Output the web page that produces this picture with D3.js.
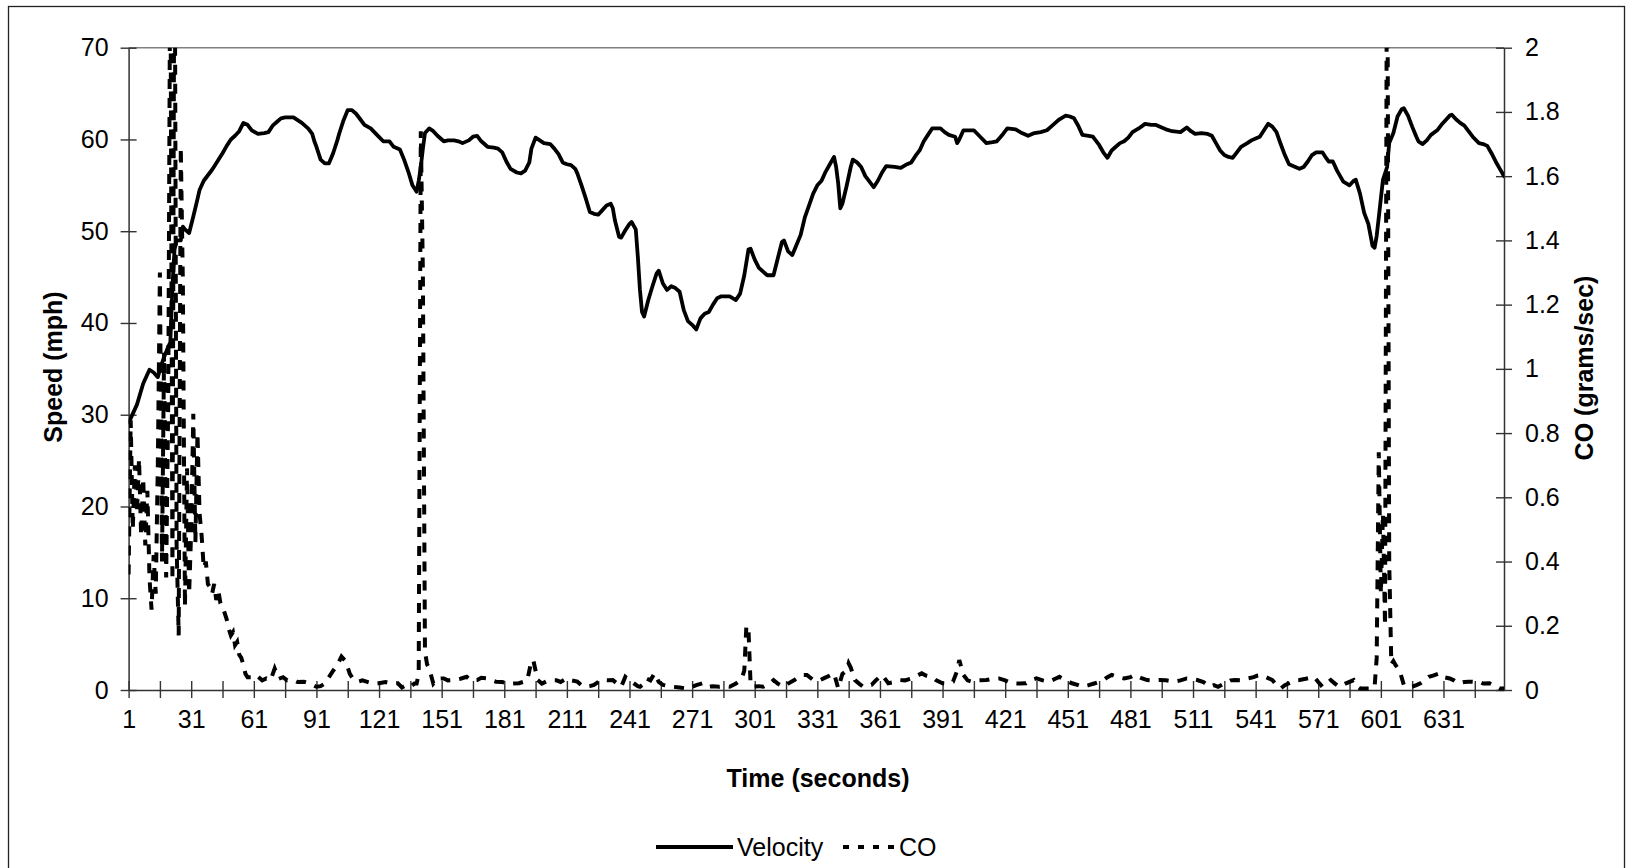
<!DOCTYPE html>
<html><head><meta charset="utf-8">
<script src="https://cdn.jsdelivr.net/npm/d3@7"></script>
<style>
html,body{margin:0;padding:0;background:#fff;}
svg{display:block;font-family:"Liberation Sans",Arial,Helvetica,sans-serif;}
</style></head><body>
<svg id="chart" width="1627" height="868"></svg>
<script>
// ---------- DATA ----------
const velT = [1,2,5,8,11,13,15,16,18,20,21,22,23,24,26,27,28,30,32,34,35,37,39,41,43,46,48,50,52,54,56,58,60,63,66,68,70,72,74,76,80,82,84,87,89,90,91,93,95,97,99,101,102,104,106,108,110,112,114,117,120,123,126,128,131,133,135,137,139,140,141,142,143,145,147,149,152,154,157,159,161,164,166,168,170,173,176,178,180,182,184,187,189,191,193,194,196,198,200,203,205,207,209,211,213,215,216,218,220,222,224,226,228,230,232,233,234,236,237,239,241,242,244,245,246,247,248,250,252,254,255,257,259,261,263,265,267,269,271,273,275,277,279,281,283,285,289,292,294,296,298,299,301,303,305,307,310,312,314,315,317,319,321,323,325,327,329,331,333,335,337,339,340,341,342,343,345,347,348,350,352,354,356,358,360,362,364,368,371,374,376,378,380,382,384,386,390,392,394,397,398,399,401,406,409,412,415,417,420,422,426,429,432,435,438,441,443,445,447,450,452,454,456,458,461,463,466,468,470,472,474,476,478,480,482,485,488,491,493,496,498,501,505,508,510,512,515,518,520,522,524,526,528,530,532,534,537,539,541,543,545,547,549,551,553,555,557,560,562,564,566,568,570,573,575,576,578,580,583,586,588,589,591,593,595,597,598,599,600,602,604,605,607,609,611,612,614,616,618,619,621,623,625,628,630,632,634,635,637,639,641,643,645,648,650,652,654,656,658,660];
const velMph = [29.2,29.6,31.1,33.4,34.9,34.6,34.1,34.9,36.3,37.4,37.9,44.0,48.0,49.0,49.0,50.5,50.2,49.8,51.6,53.5,54.5,55.5,56.1,56.7,57.4,58.5,59.3,60.0,60.4,60.9,61.8,61.6,61.0,60.6,60.7,60.8,61.5,61.9,62.3,62.4,62.4,62.1,61.8,61.2,60.6,59.8,59.2,57.8,57.4,57.4,58.5,59.9,60.7,62.1,63.2,63.2,62.8,62.2,61.6,61.2,60.5,59.8,59.8,59.2,58.9,57.8,56.5,55.0,54.3,55.5,57.0,59.0,60.7,61.2,60.9,60.4,59.8,59.9,59.9,59.8,59.6,59.9,60.3,60.4,59.8,59.2,59.1,59.0,58.6,57.6,56.8,56.4,56.3,56.6,57.5,59.0,60.2,59.9,59.6,59.5,59.0,58.4,57.5,57.3,57.2,56.8,56.3,55.0,53.6,52.1,51.9,51.8,52.3,52.8,53.0,52.5,51.2,49.4,49.3,50.1,50.8,51.0,50.2,47.2,43.6,41.2,40.7,42.5,44.0,45.4,45.7,44.3,43.6,44.0,43.8,43.4,41.4,40.2,39.8,39.3,40.5,41.0,41.2,42.0,42.7,42.9,42.9,42.5,43.2,45.2,48.0,48.1,46.9,46.0,45.6,45.2,45.2,47.0,48.8,49.0,47.8,47.4,48.5,49.6,51.5,52.8,54.1,55.0,55.5,56.5,57.3,58.1,57.0,55.2,52.5,53.0,54.9,57.0,57.8,57.5,57.0,56.0,55.4,54.8,55.5,56.4,57.1,57.0,56.9,57.3,57.5,58.2,58.8,59.8,60.5,61.2,61.2,60.8,60.5,60.3,59.6,60.0,61.0,61.0,60.3,59.6,59.7,59.8,60.6,61.2,61.1,60.7,60.4,60.7,60.8,61.0,61.4,61.8,62.2,62.6,62.5,62.3,61.5,60.5,60.4,60.3,59.4,58.6,58.0,58.8,59.2,59.6,59.8,60.2,60.8,61.2,61.7,61.6,61.6,61.3,61.1,60.9,60.8,61.3,60.9,60.6,60.7,60.6,60.4,59.6,58.8,58.3,58.1,58.0,58.6,59.2,59.6,59.9,60.1,60.3,61.0,61.7,61.4,60.8,59.5,58.3,57.3,57.0,56.8,57.0,57.6,58.3,58.6,58.6,57.9,57.6,57.6,56.6,55.4,55.0,55.5,55.6,54.1,52.0,50.8,48.4,48.2,49.5,51.5,55.6,57.0,59.6,60.7,62.5,63.3,63.4,62.6,61.4,60.3,59.8,59.5,59.9,60.5,61.0,61.6,62.1,62.6,62.7,62.2,61.8,61.5,60.9,60.3,59.6,59.5,59.3,58.5,57.6,56.8,56.0];

const coT = [1,2,3,4,5,6,7,8,9,10,11,12,13,14,15,16,17,18,19,20,21,22,23,24,25,26,27,28,29,30,31,32,33,34,35,36,37,38,39,40,41,42,43,44,45,46,47,48,49,50,51,52,53,54,55,56,57,58,60,62,65,67,69,71,73,75,77,80,82,85,88,91,93,95,97,99,101,103,105,107,109,111,113,115,118,121,124,127,130,132,134,136,138,139,140,141,142,143,144,145,147,149,152,154,157,160,163,165,168,170,173,175,177,180,182,185,188,190,192,193,194,195,196,197,199,201,203,206,208,211,213,216,218,220,222,224,226,228,231,233,235,237,239,241,243,245,246,248,249,251,253,255,257,260,262,265,268,271,273,276,278,281,284,287,289,292,294,295,296,297,298,299,300,303,305,308,310,312,315,317,320,322,324,326,329,332,334,337,339,341,343,345,346,347,349,351,353,355,357,359,362,364,365,368,370,373,376,379,381,383,386,388,391,393,396,398,399,400,401,403,405,408,412,415,418,421,424,428,431,433,436,439,442,445,447,450,453,456,458,461,464,468,470,472,475,478,481,483,486,489,492,495,498,502,505,508,510,513,516,519,521,523,526,529,531,534,537,540,542,544,546,549,551,553,555,557,560,562,565,569,571,573,575,577,579,581,584,588,590,591,594,597,598,599,600,601,602,603,604,605,606,607,608,610,612,614,616,618,620,622,624,626,629,631,634,636,638,641,643,646,648,650,653,655,658,660];
const coGps = [0.36,0.84,0.50,0.70,0.55,0.72,0.48,0.66,0.45,0.62,0.35,0.25,0.42,0.30,0.70,1.30,0.40,1.05,0.35,0.90,2.40,0.34,2.60,0.45,0.17,1.69,1.27,0.26,0.69,0.30,0.50,0.86,0.46,0.80,0.55,0.48,0.38,0.40,0.33,0.32,0.30,0.33,0.28,0.31,0.27,0.26,0.24,0.22,0.19,0.17,0.18,0.14,0.15,0.11,0.10,0.078,0.05,0.04,0.04,0.047,0.03,0.036,0.03,0.067,0.035,0.04,0.03,0.031,0.025,0.026,0.02,0.01,0.012,0.02,0.04,0.06,0.078,0.104,0.09,0.05,0.03,0.026,0.03,0.026,0.02,0.021,0.025,0.02,0.021,0.008,0.015,0.01,0.02,0.02,0.05,1.74,1.30,0.12,0.08,0.068,0.02,0.035,0.036,0.03,0.031,0.035,0.041,0.03,0.031,0.038,0.036,0.03,0.026,0.025,0.021,0.02,0.021,0.025,0.03,0.06,0.093,0.09,0.06,0.031,0.02,0.026,0.03,0.03,0.025,0.036,0.03,0.026,0.015,0.01,0.012,0.016,0.025,0.031,0.03,0.031,0.02,0.01,0.041,0.03,0.021,0.012,0.01,0.02,0.036,0.03,0.052,0.025,0.016,0.012,0.01,0.008,0.005,0.01,0.015,0.021,0.01,0.012,0.01,0.012,0.01,0.02,0.03,0.041,0.06,0.20,0.19,0.02,0.01,0.012,0.01,0.02,0.031,0.02,0.01,0.02,0.031,0.04,0.047,0.047,0.031,0.03,0.036,0.045,0.052,0.005,0.05,0.06,0.083,0.07,0.031,0.02,0.01,0.012,0.016,0.03,0.047,0.03,0.021,0.025,0.031,0.03,0.036,0.045,0.052,0.045,0.041,0.03,0.021,0.02,0.026,0.06,0.093,0.07,0.047,0.03,0.026,0.03,0.031,0.035,0.036,0.03,0.021,0.02,0.021,0.03,0.036,0.03,0.026,0.035,0.041,0.03,0.021,0.015,0.01,0.015,0.021,0.03,0.04,0.047,0.04,0.036,0.04,0.047,0.038,0.031,0.03,0.031,0.03,0.026,0.03,0.036,0.035,0.031,0.025,0.01,0.015,0.01,0.02,0.03,0.031,0.03,0.036,0.04,0.045,0.047,0.04,0.031,0.015,0.005,0.015,0.021,0.03,0.031,0.035,0.041,0.025,0.01,0.02,0.031,0.02,0.01,0.02,0.031,0.01,0.005,0.005,0.005,0.01,0.10,0.74,0.30,0.55,0.20,2.60,0.40,0.08,0.09,0.078,0.06,0.016,0.012,0.01,0.015,0.021,0.03,0.041,0.045,0.052,0.04,0.036,0.03,0.021,0.025,0.026,0.025,0.026,0.02,0.021,0.015,0.005,0.005];

const speedTicks = [0,10,20,30,40,50,60,70];
const coTicks = [0,0.2,0.4,0.6,0.8,1,1.2,1.4,1.6,1.8,2];
const timeLabels = [1,31,61,91,121,151,181,211,241,271,301,331,361,391,421,451,481,511,541,571,601,631];
const timeMax = 660;

// ---------- LAYOUT ----------
const svg = d3.select("#chart");
const L = 128.6, R = 1504, T = 47.7, B = 690;
const x = d3.scaleLinear().domain([1, timeMax]).range([L, R]);
const yL = d3.scaleLinear().domain([0, 70]).range([B, T]);
const yR = d3.scaleLinear().domain([0, 2]).range([B, T]);
const FONT = 25, TFONT = 25;
const axisCol = "#333";

// outer frame
svg.append("rect").attr("x",8.5).attr("y",6.5).attr("width",1616).attr("height",880)
  .attr("fill","none").attr("stroke","#222").attr("stroke-width",1.3);

// plot-area top border (gray)
svg.append("line").attr("x1",L).attr("x2",R).attr("y1",T).attr("y2",T)
  .attr("stroke","#808080").attr("stroke-width",1.4);

// clip
svg.append("clipPath").attr("id","plotclip").append("rect")
  .attr("x",L).attr("y",T).attr("width",R-L).attr("height",B-T+4);

// left axis
const gL = svg.append("g").attr("transform",`translate(${L},0)`)
  .call(d3.axisLeft(yL).tickValues(speedTicks).tickFormat(d3.format("d"))
    .tickSizeInner(8).tickSizeOuter(0).tickPadding(12));
gL.selectAll(".tick line").attr("x1",8);
// right axis
const gR = svg.append("g").attr("transform",`translate(${R},0)`)
  .call(d3.axisRight(yR).tickValues(coTicks).tickFormat(d => String(+d.toFixed(1)))
    .tickSizeInner(8).tickSizeOuter(0).tickPadding(13));
gR.selectAll(".tick line").attr("x1",-8);
// bottom axis
const tickMarks = d3.range(1, timeMax, 15);
const gB = svg.append("g").attr("transform",`translate(0,${B})`)
  .call(d3.axisBottom(x).tickValues(tickMarks)
    .tickFormat(d => timeLabels.includes(d) ? String(d) : "")
    .tickSizeInner(8).tickSizeOuter(0).tickPadding(12));
gB.selectAll(".tick line").attr("y1",-9);

[gL,gR,gB].forEach(g => {
  g.select(".domain").attr("stroke",axisCol).attr("stroke-width",1.5);
  g.selectAll(".tick line").attr("stroke",axisCol).attr("stroke-width",1.4);
  g.selectAll(".tick text").attr("fill","#000").style("font-size",FONT+"px")
    .style("font-family",'"Liberation Sans",Arial,sans-serif');
});

// series
const velData = velT.map((t,i) => [t, velMph[i]]);
const coData = coT.map((t,i) => [t, coGps[i]]);
const plot = svg.append("g").attr("clip-path","url(#plotclip)");
plot.append("path").datum(coData)
  .attr("d", d3.line().x(d => x(d[0])).y(d => yR(d[1])))
  .attr("fill","none").attr("stroke","#000").attr("stroke-width",4)
  .attr("stroke-dasharray","10,9").attr("stroke-linejoin","miter");
plot.append("path").datum(velData)
  .attr("d", d3.line().x(d => x(d[0])).y(d => yL(d[1])).curve(d3.curveLinear))
  .attr("fill","none").attr("stroke","#000").attr("stroke-width",3.8)
  .attr("stroke-linejoin","round").attr("stroke-linecap","round");

// axis titles
svg.append("text").attr("transform","translate(61.5,367) rotate(-90)")
  .attr("text-anchor","middle").style("font-size",TFONT+"px").style("font-weight","bold")
  .text("Speed (mph)");
svg.append("text").attr("transform","translate(1593,368) rotate(-90)")
  .attr("text-anchor","middle").style("font-size",TFONT+"px").style("font-weight","bold")
  .text("CO (grams/sec)");
svg.append("text").attr("x",818).attr("y",787)
  .attr("text-anchor","middle").style("font-size",TFONT+"px").style("font-weight","bold")
  .text("Time (seconds)");

// legend
const lg = svg.append("g");
const LY = 847;
lg.append("line").attr("x1",656).attr("x2",733).attr("y1",LY).attr("y2",LY)
  .attr("stroke","#000").attr("stroke-width",3.8);
lg.append("text").attr("x",737).attr("y",LY+9).style("font-size",FONT+"px").text("Velocity");
lg.append("line").attr("x1",843).attr("x2",894).attr("y1",LY).attr("y2",LY)
  .attr("stroke","#000").attr("stroke-width",3.8).attr("stroke-dasharray","6,9");
lg.append("text").attr("x",899).attr("y",LY+9).style("font-size",FONT+"px").text("CO");
</script>
</body></html>
